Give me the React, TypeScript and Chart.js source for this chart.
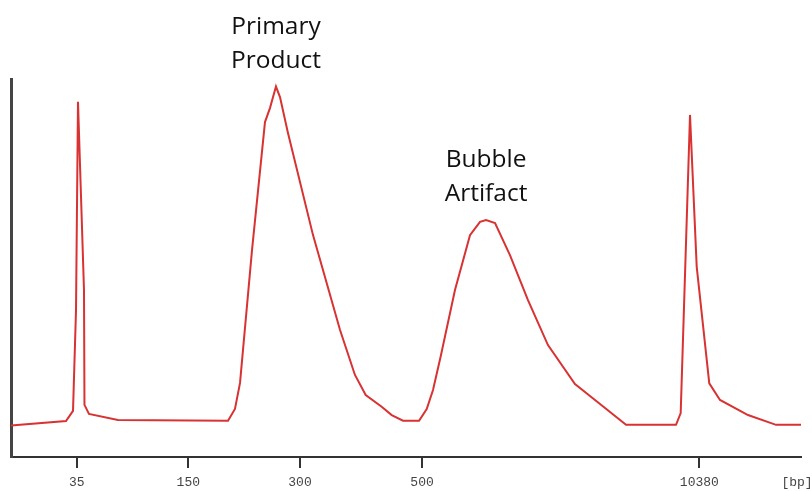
import React, { useEffect, useRef } from "react";
import { Chart, registerables } from "chart.js";

Chart.register(...registerables);

// Migration position (arbitrary units, 0..100) and signal intensity (0..100)
const positions = [
  0, 6.96, 7.85, 8.23, 8.48, 9.24, 9.3, 9.87, 13.54, 27.47, 28.35, 28.99, 30.51, 32.15,
  32.78, 33.54, 34.05, 35.06, 38.23, 41.65, 43.54, 44.9, 46.92, 48.19, 49.62, 51.65,
  52.62, 53.42, 54.43, 56.2, 58.1, 59.37, 60.13, 61.27, 63.16, 65.44, 67.97, 71.39,
  74.56, 77.85, 84.18, 84.77, 85.95, 86.8, 88.39, 89.75, 93.29, 96.84, 100,
];
const intensity = [
  8.3, 9.5, 12.2, 38.9, 94.0, 44.2, 13.8, 11.4, 9.8, 9.6, 12.7, 19.6, 54.8, 88.6,
  92.3, 98.0, 95.2, 85.7, 58.7, 33.6, 21.7, 16.4, 13.3, 11.1, 9.6, 9.6,
  12.7, 17.7, 27.0, 44.2, 58.7, 62.2, 62.7, 61.9, 53.4, 41.5, 29.6, 19.3,
  14.0, 8.5, 8.5, 11.6, 90.5, 50.3, 19.5, 15.1, 11.1, 8.5, 8.5,
];

// Ladder tick positions and labels
const tickPositions = [8.32, 22.44, 36.58, 52.03, 87.13];
const tickLabels = ["35", "150", "300", "500", "10380"];
const unitLabel = "[bp]";

// Annotations: lines of text and the x position (peak) they sit above
const annotationLines = [
  ["Primary", "Product"],
  ["Bubble", "Artifact"],
];
const annotationX = [33.54, 60.13];
const annotationPeakY = [98.0, 62.7];

const TICK_LEN = 11;
const TICK_PAD = 7;
const TICK_FONT = 13;

const annotationPlugin = {
  id: "peakLabels",
  afterDraw(chart: any) {
    const { ctx, scales } = chart;
    const xs = scales.x;
    const ys = scales.y;
    ctx.save();
    ctx.font = "24.5px 'Open Sans'";
    ctx.fillStyle = "#111111";
    ctx.textAlign = "center";
    ctx.textBaseline = "alphabetic";
    annotationLines.forEach((lines, i) => {
      const px = xs.getPixelForValue(annotationX[i]);
      const peak = ys.getPixelForValue(annotationPeakY[i]);
      const lastBase = peak - 19;
      lines.forEach((t, j) => {
        const y = lastBase - (lines.length - 1 - j) * 34;
        ctx.fillText(t, px, y);
      });
    });
    // unit label at the right end of the axis
    ctx.font = `${TICK_FONT}px 'Liberation Mono'`;
    ctx.fillStyle = "#444444";
    ctx.textAlign = "center";
    ctx.textBaseline = "middle";
    ctx.fillText(unitLabel, xs.right - 4, xs.top + TICK_LEN + TICK_PAD + (TICK_FONT * 1.2) / 2);
    ctx.restore();
  },
};

export default function App() {
  const ref = useRef<HTMLCanvasElement | null>(null);

  useEffect(() => {
    document.body.style.margin = "0";
    if (!ref.current) return;
    const chart = new Chart(ref.current, {
      type: "line",
      data: {
        datasets: [
          {
            data: positions.map((x, i) => ({ x, y: intensity[i] })),
            borderColor: "#d83232",
            borderWidth: 2,
            pointRadius: 0,
            tension: 0,
            fill: false,
          },
        ],
      },
      options: {
        animation: false,
        responsive: false,
        maintainAspectRatio: false,
        layout: { padding: { left: 11, right: 11, top: 79, bottom: 0 } },
        plugins: {
          legend: { display: false },
          tooltip: { enabled: false },
          title: { display: false },
        },
        scales: {
          x: {
            type: "linear",
            min: 0,
            max: 100,
            afterBuildTicks: (scale: any) => {
              scale.ticks = tickPositions.map((v) => ({ value: v }));
            },
            afterFit: (scale: any) => {
              scale.height = 34;
              scale.paddingLeft = 0;
              scale.paddingRight = 0;
            },
            border: { display: true, color: "#333333", width: 2 },
            grid: {
              drawOnChartArea: false,
              drawTicks: true,
              tickLength: TICK_LEN,
              lineWidth: 2,
              color: "#333333",
            },
            ticks: {
              autoSkip: false,
              maxRotation: 0,
              padding: TICK_PAD,
              color: "#444444",
              font: { family: "'Liberation Mono'", size: TICK_FONT },
              callback: (v: any) => {
                const i = tickPositions.indexOf(Number(v));
                return i >= 0 ? tickLabels[i] : "";
              },
            },
          },
          y: {
            min: 0,
            max: 100,
            afterFit: (scale: any) => {
              scale.width = 0;
            },
            border: { display: true, color: "#444444", width: 3 },
            grid: { display: false, drawTicks: false },
            ticks: { display: false },
          },
        },
      },
      plugins: [annotationPlugin],
    });
    return () => chart.destroy();
  }, []);

  return (
    <div style={{ width: 812, height: 491, background: "#ffffff" }}>
      <canvas ref={ref} width={812} height={491} style={{ display: "block" }} />
    </div>
  );
}
